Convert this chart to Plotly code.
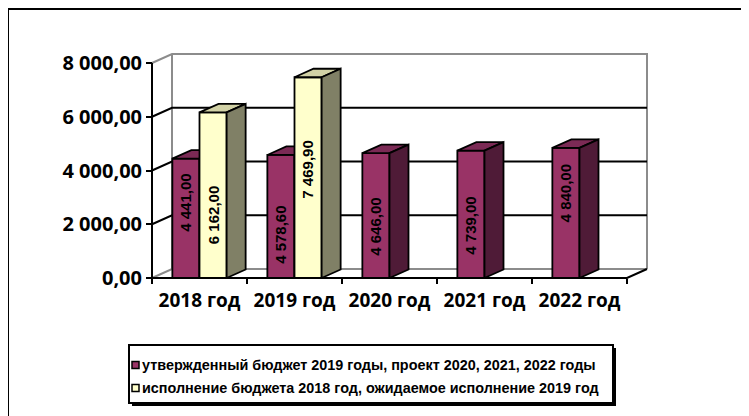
import plotly.graph_objects as go

# ---------------- data ----------------
categories = ["2018 год", "2019 год", "2020 год", "2021 год", "2022 год"]
budget = [4441.00, 4578.60, 4646.00, 4739.00, 4840.00]
execution = [6162.00, 7469.90, None, None, None]
series_names = [
    "утвержденный бюджет 2019 годы, проект 2020, 2021, 2022 годы",
    "исполнение бюджета 2018 год, ожидаемое исполнение 2019 год",
]
y_ticks = [0, 2000, 4000, 6000, 8000]

# label vertical placement as fraction of bar height (style)
budget_label_frac = [0.63, 0.35, 0.41, 0.41, 0.65]
exec_label_frac = [0.38, 0.54, None, None, None]

# ---------------- geometry / style ----------------
W, H = 749, 416
PAGE_OFF = 8         # default page body margin shifts the figure by this much

def fx(px):          # screen pixel -> figure pixel
    return px - PAGE_OFF

def fy(py):
    return py - PAGE_OFF

CAT0_PX = 199.5      # screen x of first category centre (front plane)
CAT_W = 95.0         # pixels per category
ZERO_PY = 278.0      # screen y of value 0 (front plane)
K = 53.75 / 2000.0   # pixels per value unit
DOM_X = (140, 670)   # screen pixels
DOM_Y = (40, 290)

def px2x(px):
    return (px - CAT0_PX) / CAT_W

def py2y(py):
    return (ZERO_PY - py) / K

WALL_DX, WALL_DY = 20 / CAT_W, 9 / K
BAR_DX, BAR_DY = 19 / CAT_W, 8.5 / K
BW = 2.0 / (2 + 1.5) / 2.0   # Excel gap width 150 %
YMAX = y_ticks[-1]
XL, XR = -0.5, len(categories) - 0.5

MAROON = ["#993366", "#7b2a55", "#4f1b37"]
YELLOW = ["#ffffcc", "#d2d2a6", "#808066"]
GRAY = "#8c8c8c"

def fmt(v):
    return f"{v:,.2f}".replace(",", " ").replace(".", ",")

fig = go.Figure()

def add_line(xs, ys, color, width):
    fig.add_trace(go.Scatter(x=xs, y=ys, mode="lines", hoverinfo="skip",
                             line=dict(color=color, width=width), showlegend=False))

# walls: gray outline
add_line([XL, XL + WALL_DX, XR + WALL_DX, XR + WALL_DX],
         [YMAX, YMAX + WALL_DY, YMAX + WALL_DY, WALL_DY], GRAY, 2)
add_line([XL, XL + WALL_DX, XR + WALL_DX], [0, WALL_DY, WALL_DY], GRAY, 2)
add_line([XL + WALL_DX, XL + WALL_DX], [WALL_DY, YMAX + WALL_DY], GRAY, 2)

# gridlines along side wall and back wall
for v in y_ticks[1:-1]:
    add_line([XL, XL + WALL_DX, XR + WALL_DX], [v, v + WALL_DY, v + WALL_DY], "black", 2)

# front axis lines
add_line([XL, XL], [0, YMAX], "black", 2)
add_line([XL, XR, XR + WALL_DX], [0, 0, WALL_DY], "black", 2)

# bars as 3D boxes
def boxes(values, offset, colors, name):
    bx, by, tx, ty, sx, sy = [], [], [], [], [], []
    for i, v in enumerate(values):
        if v is None:
            continue
        x0 = i + offset
        x1 = x0 + BW
        bx += [x0, x1, x1, x0, x0, None]
        by += [0, 0, v, v, 0, None]
        tx += [x0, x1, x1 + BAR_DX, x0 + BAR_DX, x0, None]
        ty += [v, v, v + BAR_DY, v + BAR_DY, v, None]
        sx += [x1, x1 + BAR_DX, x1 + BAR_DX, x1, x1, None]
        sy += [0, BAR_DY, v + BAR_DY, v, 0, None]
    for xs, ys, c in ((bx, by, colors[0]), (tx, ty, colors[1]), (sx, sy, colors[2])):
        fig.add_trace(go.Scatter(x=xs, y=ys, mode="lines", fill="toself", fillcolor=c,
                                 line=dict(color="black", width=1.8), name=name,
                                 hoverinfo="skip", showlegend=False))

boxes(budget, -BW, MAROON, series_names[0])
boxes(execution, 0.0, YELLOW, series_names[1])

# data labels
annotations = []
for vals, fracs, off in ((budget, budget_label_frac, -BW / 2), (execution, exec_label_frac, BW / 2)):
    for i, (v, f) in enumerate(zip(vals, fracs)):
        if v is None:
            continue
        annotations.append(dict(x=i + off, y=v * f, xref="x", yref="y", text=fmt(v),
                                textangle=-90, showarrow=False, xanchor="center", yanchor="middle",
                                font=dict(family="Liberation Sans", size=15, color="black",
                                          weight="bold")))

# manual legend
def P(px, py):       # screen pixel -> paper fraction
    return fx(px) / W, 1 - fy(py) / H

shapes = []
lx0, ly0, lx1, ly1 = 129, 345, 613, 403
a, b = P(lx0 + 3, ly0 + 3); c, d = P(lx1 + 3, ly1 + 3)
shapes.append(dict(type="rect", xref="paper", yref="paper", x0=a, y0=b, x1=c, y1=d,
                   fillcolor="black", line=dict(width=0)))
a, b = P(lx0, ly0); c, d = P(lx1, ly1)
shapes.append(dict(type="rect", xref="paper", yref="paper", x0=a, y0=b, x1=c, y1=d,
                   fillcolor="white", line=dict(color="black", width=2)))
for k, (name, col) in enumerate(zip(series_names, (MAROON[0], YELLOW[0]))):
    cy = 365 + 23 * k
    a, b = P(132, cy - 3.5); c, d = P(139, cy + 3.5)
    shapes.append(dict(type="rect", xref="paper", yref="paper", x0=a, y0=b, x1=c, y1=d,
                       fillcolor=col, line=dict(color="black", width=1.5)))
    tx, ty = P(140, cy)
    annotations.append(dict(x=tx, y=ty, xref="paper", yref="paper", text=name, showarrow=False,
                            xanchor="left", yanchor="middle",
                            font=dict(family="Liberation Sans", size=14.4, color="black",
                                      weight="bold")))

# outer chart border
a, b = P(8, 9); c, d = P(800, 500)
shapes.append(dict(type="rect", xref="paper", yref="paper", x0=a, y0=b, x1=c, y1=d,
                   line=dict(color="black", width=2)))

ytick_font = dict(family="Open Sans", size=20, color="black", weight="bold")
xtick_font = dict(family="Open Sans", size=19, color="black", weight="bold")

fig.update_layout(
    width=W, height=H, margin=dict(l=0, r=0, t=0, b=0),
    paper_bgcolor="white", plot_bgcolor="rgba(0,0,0,0)", showlegend=False,
    shapes=shapes, annotations=annotations,
    xaxis=dict(domain=[fx(DOM_X[0]) / W, fx(DOM_X[1]) / W], range=[px2x(DOM_X[0]), px2x(DOM_X[1])],
               anchor="free", position=1 - fy(ZERO_PY) / H,
               tickmode="array", tickvals=list(range(len(categories))), ticktext=categories,
               ticks="", showline=False, showgrid=False, zeroline=False,
               tickfont=xtick_font, ticklabelstandoff=9,
               minor=dict(tickmode="array", tickvals=[i - 0.5 for i in range(len(categories) + 1)],
                          ticks="outside", ticklen=5, tickwidth=2, tickcolor="black", showgrid=False)),
    yaxis=dict(domain=[1 - fy(DOM_Y[1]) / H, 1 - fy(DOM_Y[0]) / H],
               range=[py2y(DOM_Y[1]), py2y(DOM_Y[0])],
               anchor="free", position=fx(CAT0_PX - 0.5 * CAT_W) / W,
               tickmode="array", tickvals=y_ticks, ticktext=[fmt(v) for v in y_ticks],
               ticks="outside", ticklen=6, tickwidth=2, tickcolor="black",
               showline=False, showgrid=False, zeroline=False, tickfont=ytick_font),
)

fig.write_html("out.html")
